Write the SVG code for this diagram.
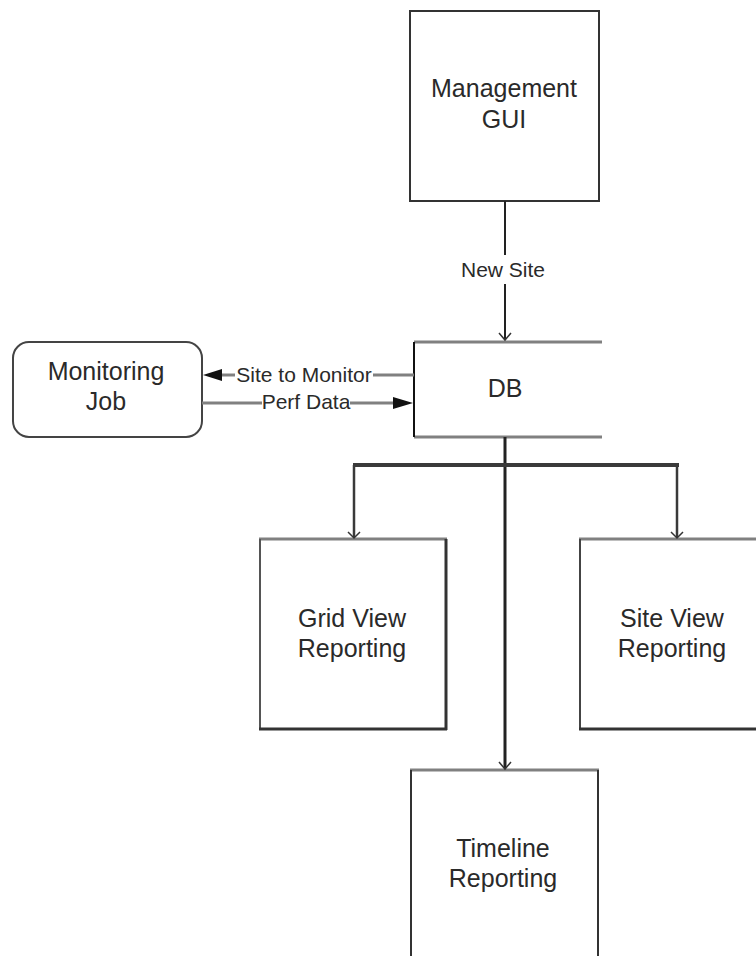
<svg xmlns="http://www.w3.org/2000/svg" width="756" height="956" viewBox="0 0 756 956">
<style>
  .t { font-family: "Liberation Sans", Arial, sans-serif; font-size: 25px; fill: #2a2a2a; text-anchor: middle; }
  .l { font-family: "Liberation Sans", Arial, sans-serif; font-size: 21px; fill: #2a2a2a; text-anchor: middle; }
  .lg { stroke: #808080; stroke-width: 3; fill: none; }
  .dk3 { stroke: #333; stroke-width: 3; fill: none; }
  .c { stroke: #222; stroke-width: 2; fill: none; }
  .cg { stroke: #808080; stroke-width: 3; fill: none; }
  .open { stroke: #333; stroke-width: 1.5; fill: none; }
</style>
<rect width="756" height="956" fill="#fff"/>

<g id="management-gui">
  <rect x="410" y="11" width="189" height="190" fill="#fff" stroke="#333" stroke-width="2"/>
  <text class="t" x="504" y="97">Management</text>
  <text class="t" x="504" y="128">GUI</text>
</g>

<g id="monitoring-job">
  <rect x="13" y="342" width="189" height="95" rx="16" ry="16" fill="#fff" stroke="#444" stroke-width="2"/>
  <text class="t" x="106" y="380">Monitoring</text>
  <text class="t" x="106" y="410">Job</text>
</g>

<g id="db">
  <line class="lg" x1="414" y1="342" x2="602" y2="342"/>
  <line class="lg" x1="414" y1="437" x2="602" y2="437"/>
  <line stroke="#111" stroke-width="2" x1="414" y1="342" x2="414" y2="437"/>
  <text class="t" x="505" y="397">DB</text>
</g>

<g id="grid-view-reporting">
  <line class="lg" x1="259" y1="539" x2="447" y2="539"/>
  <line stroke="#555" stroke-width="2" x1="260" y1="539" x2="260" y2="729"/>
  <line class="dk3" x1="446" y1="539" x2="446" y2="730"/>
  <line class="dk3" x1="259" y1="729" x2="447" y2="729"/>
  <text class="t" x="352" y="627">Grid View</text>
  <text class="t" x="352" y="657">Reporting</text>
</g>

<g id="site-view-reporting">
  <line class="lg" x1="579" y1="539" x2="756" y2="539"/>
  <line stroke="#444" stroke-width="2" x1="580" y1="539" x2="580" y2="729"/>
  <line class="dk3" x1="579" y1="729" x2="756" y2="729"/>
  <text class="t" x="672" y="627">Site View</text>
  <text class="t" x="672" y="657">Reporting</text>
</g>

<g id="timeline-reporting">
  <line class="lg" x1="410" y1="770" x2="599" y2="770"/>
  <line stroke="#333" stroke-width="2" x1="411" y1="770" x2="411" y2="956"/>
  <line stroke="#333" stroke-width="2" x1="598" y1="770" x2="598" y2="956"/>
  <text class="t" x="503" y="857">Timeline</text>
  <text class="t" x="503" y="887">Reporting</text>
</g>

<g id="connectors">
  <line class="c" x1="505" y1="201" x2="505" y2="255"/>
  <line class="c" x1="505" y1="284" x2="505" y2="340"/>
  <polyline class="open" points="499,333 505,340 511,333"/>
  <text class="l" x="503" y="277">New Site</text>

  <line class="cg" x1="414" y1="375" x2="373" y2="375"/>
  <line class="cg" x1="235" y1="375" x2="220" y2="375"/>
  <polygon points="203,375 222,369 222,381" fill="#111"/>
  <text class="l" x="304" y="382">Site to Monitor</text>

  <line class="cg" x1="202" y1="403" x2="262" y2="403"/>
  <line class="cg" x1="350" y1="403" x2="396" y2="403"/>
  <polygon points="413,403 393,397 393,409" fill="#111"/>
  <text class="l" x="306" y="409">Perf Data</text>

  <line stroke="#222" stroke-width="3" x1="505" y1="437" x2="505" y2="768"/>
  <polyline class="open" points="499,762 505,769 511,762"/>

  <line stroke="#3a3a3a" stroke-width="4" x1="353" y1="465" x2="679" y2="465"/>
  <line stroke="#3a3a3a" stroke-width="2.5" x1="354" y1="465" x2="354" y2="537"/>
  <polyline class="open" points="348,532 354,538 360,532"/>
  <line stroke="#3a3a3a" stroke-width="2.5" x1="677" y1="465" x2="677" y2="537"/>
  <polyline class="open" points="671,532 677,538 683,532"/>
</g>
</svg>
